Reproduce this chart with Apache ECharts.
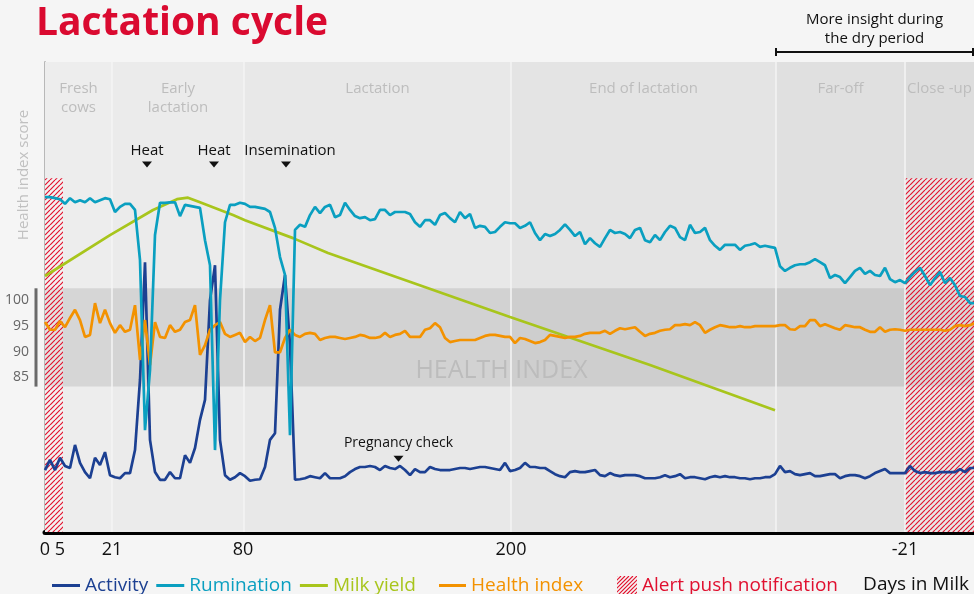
<!DOCTYPE html>
<html><head><meta charset="utf-8">
<script src="https://cdn.jsdelivr.net/npm/echarts@6.0.0/dist/echarts.min.js"></script>
<style>html,body{margin:0;padding:0;background:#f5f5f5;}#c{width:974px;height:594px;}</style>
</head><body><div id="c"></div>
<script>
// ---- DATA (x = position along the schematic lactation timeline, one unit per sample) ----
const activity = [66.3,68.3,66.3,68.7,67.1,66.7,71.2,67.7,65.9,64.7,
68.7,67.3,69.8,65.3,64.9,64.7,65.7,65.7,70.2,83.9,
106.9,72.2,65.9,64.4,64.4,65.9,64.7,64.7,69.2,67.7,
70.6,76.1,80.0,99.5,106.3,72.2,65.3,64.4,64.9,65.7,
65.1,64.2,64.4,64.5,66.9,72.2,73.5,97.6,104.4,90.7,
64.4,64.5,64.7,65.1,64.9,64.7,65.7,64.7,64.7,64.7,
65.1,65.9,66.5,66.9,66.9,67.1,66.9,66.3,67.1,66.7,
66.5,67.1,66.3,65.3,66.5,65.9,65.9,66.9,66.5,66.3,
66.3,66.3,66.5,66.7,66.7,66.5,66.7,66.9,66.9,66.7,
66.5,66.3,67.7,66.1,66.3,66.7,67.7,66.9,66.9,66.7,
66.7,66.1,65.5,65.1,64.9,65.9,66.1,65.9,65.9,66.1,
66.3,65.3,65.1,65.7,65.3,65.1,65.3,65.3,65.3,65.1,
64.7,64.7,64.7,64.9,65.3,64.9,65.1,65.5,64.7,64.9,
64.9,64.7,64.5,64.9,65.1,64.9,65.1,64.9,64.9,64.7,
64.7,64.5,64.7,64.7,64.9,64.9,65.5,67.1,65.9,66.1,
65.5,65.3,65.5,65.7,65.1,65.1,65.3,65.5,65.5,64.7,
65.1,65.3,65.3,65.1,64.7,65.1,65.7,66.1,66.5,65.7,
65.7,65.7,65.7,67.1,66.1,65.7,65.9,65.7,65.7,65.9,
65.9,65.9,65.9,66.5,65.9,66.7,66.7];

const rumination = [119.6,119.6,119.4,119.2,118.3,119.4,118.6,119.0,118.6,119.4,
118.6,119.0,119.4,119.2,116.7,117.7,118.3,118.3,117.1,107.3,
74.1,85.8,112.2,118.5,118.5,118.6,118.6,115.9,118.1,117.9,
117.7,117.5,111.2,106.3,70.2,99.5,114.7,118.1,118.1,118.5,
118.3,117.7,117.7,117.5,117.3,116.7,113.6,107.9,104.4,73.1,
113.2,114.2,113.8,116.1,117.7,116.5,117.7,118.1,115.7,116.1,
118.5,117.1,115.9,115.5,115.7,115.1,115.3,117.1,117.1,116.1,
116.7,116.7,116.7,116.3,114.7,113.8,115.1,115.1,114.2,116.1,
116.5,115.5,114.7,116.7,115.5,116.3,113.6,114.0,113.8,112.6,
112.8,113.8,114.7,114.5,114.5,113.6,114.0,114.7,112.6,111.2,
112.4,112.0,112.4,113.2,114.3,113.2,112.0,112.8,110.4,111.6,
110.6,109.9,111.6,113.2,112.6,112.8,112.4,111.6,113.2,113.6,
111.2,110.8,112.2,111.2,112.8,114.0,113.6,111.8,111.2,114.2,
112.6,112.8,113.6,111.2,110.1,109.3,110.3,110.3,110.3,109.3,
110.1,110.3,110.6,109.9,110.1,109.9,109.7,106.1,105.2,105.8,
106.3,106.5,106.5,106.9,107.5,106.9,106.3,103.8,104.4,104.0,
102.8,104.0,105.2,105.8,104.6,105.2,104.4,104.2,105.8,103.6,
103.0,103.4,102.8,104.0,105.0,105.8,104.2,102.4,103.8,105.0,
102.8,103.8,102.4,100.3,100.1,98.9,98.9];

const healthIndex = [95.2,93.7,93.7,95.4,94.2,96.0,97.6,95.6,92.3,92.7,
98.9,95.0,97.6,95.0,93.1,94.6,93.3,93.7,98.5,87.8,
95.6,86.8,95.2,92.3,92.1,94.6,93.3,93.7,95.2,95.6,
98.5,88.8,90.7,93.7,94.6,95.2,92.9,92.3,92.7,93.1,
91.3,92.3,91.5,92.1,95.6,98.5,89.3,89.3,92.1,93.7,
92.7,92.3,92.9,93.1,92.9,91.7,92.1,92.3,92.3,92.1,
91.9,92.1,92.3,92.7,92.5,92.1,92.1,92.3,93.1,92.3,
92.7,92.9,93.5,92.3,92.3,92.3,93.7,94.0,95.0,94.2,
92.1,91.3,91.5,91.7,91.7,91.7,91.7,92.1,92.5,92.7,
92.7,92.5,92.3,92.3,91.1,92.1,91.9,91.5,91.1,91.3,
91.7,92.7,92.5,92.3,92.1,92.3,92.3,92.5,92.9,93.1,
93.1,93.1,93.5,92.9,93.5,94.0,93.8,94.0,94.2,93.3,
92.5,92.9,93.1,93.5,93.7,93.8,94.6,94.6,94.8,94.6,
95.2,94.6,93.1,93.7,94.2,94.6,94.4,94.2,94.2,94.4,
94.2,94.2,94.4,94.4,94.4,94.4,94.4,94.6,94.6,93.8,
93.7,94.4,94.4,95.6,95.6,94.4,94.8,94.4,94.0,93.7,
94.6,94.4,94.2,94.2,93.7,93.3,93.3,94.2,93.3,93.7,
93.8,93.7,93.5,93.7,93.7,93.7,93.7,93.7,93.7,93.7,
93.5,93.7,94.4,94.6,94.4,94.6,95.0];

const milkAt    = [0, 13, 21.6, 26.4, 28.6, 31, 37.6, 40, 49.6, 56.6, 93, 121, 146];
const milkYield = [104.2, 112.2, 117.1, 119.2, 119.5, 118.6, 116.1, 115.1, 111.6, 108.7, 96.2, 86.8, 78.0];

const phaseNames = ['Fresh\ncows', 'Early\nlactation', 'Lactation', 'End of lactation', 'Far-off', 'Close -up'];
const phaseEdges = [0, 13.4, 39.8, 93.2, 146.2, 172, 185.8];
const tickAt = [0, 3, 13.4, 39.6, 93.2, 172];
const tickLabels = ['0', '5', '21', '80', '200', '-21'];
const healthTicks = [85, 90, 95, 100];
const healthBand = [82.6, 101.8];
const alertRanges = [[0, 3.6], [172, 185.8]];
const alertTop = 123.3;
const eventNames = ['Heat', 'Heat', 'Insemination', 'Pregnancy check'];
const eventAt = [20.4, 33.8, 48.2, 70.7];
const eventLevel = [126, 126, 126, 68.5];
const dryPeriod = [146.2, 185.8];

// ---- STYLE ----
const FONT = '"Open Sans", "Noto Sans", sans-serif';
const phaseColors = ['#ededed', '#ebebeb', '#e8e8e8', '#e4e4e4', '#e0e0e0', '#dddddd'];
const C = { activity: '#1c4092', rumination: '#0a9fc0', milk: '#a8c51c', health: '#f39200', alert: '#e0102f' };
const Y_MIN = 54.2, Y_MAX = 146, X_MAX = 185.8;

function hatchCanvas(w, h, step, bg, lw) {
  const c = document.createElement('canvas');
  c.width = w; c.height = h;
  const g = c.getContext('2d');
  if (bg) { g.fillStyle = bg; g.fillRect(0, 0, w, h); }
  g.strokeStyle = '#e3132f'; g.lineWidth = lw;
  g.beginPath();
  for (let k = -h; k <= w + h; k += step) { g.moveTo(k, h); g.lineTo(k + h, 0); }
  g.stroke();
  return c;
}
const hatchTile = hatchCanvas(5, 5, 5, 'rgba(255,255,255,0.3)', 1.2);
const hatchIcon = hatchCanvas(20, 20, 4, null, 1.2).toDataURL();

const xy = arr => arr.map((v, i) => [i, v]);
const lineSeries = (name, data, color, z) => ({
  name, type: 'line', data, z, showSymbol: false, symbol: 'none', silent: true,
  color, lineStyle: { color, width: 2.7 }, itemStyle: { color }, emphasis: { disabled: true }
});

const chart = echarts.init(document.getElementById('c'));
const option = {
  animation: false,
  backgroundColor: '#f5f5f5',
  textStyle: { fontFamily: FONT },
  title: [
    { text: 'Lactation cycle', left: 31, top: -1, textStyle: { color: '#da0a30', fontSize: 39, fontWeight: 'bold', fontFamily: FONT } },
    { text: 'Days in Milk', right: 0, top: 570, textStyle: { color: '#111', fontSize: 19, fontWeight: 'normal', fontFamily: FONT } }
  ],
  legend: [
    { left: 47, top: 571, itemWidth: 28, itemHeight: 3, itemGap: 8, icon: 'rect', selectedMode: false,
      textStyle: { fontSize: 19, fontFamily: FONT },
      data: [{ name: 'Activity', textStyle: { color: C.activity } },
             { name: 'Rumination', textStyle: { color: C.rumination } },
             { name: 'Milk yield', textStyle: { color: C.milk } }] },
    { left: 434, top: 571, itemWidth: 27, itemHeight: 3, icon: 'rect', selectedMode: false,
      textStyle: { fontSize: 19, fontFamily: FONT },
      data: [{ name: 'Health index', textStyle: { color: C.health } }] },
    { left: 612, top: 571, itemWidth: 20, itemHeight: 20, selectedMode: false,
      textStyle: { fontSize: 19, fontFamily: FONT },
      data: [{ name: 'Alert push notification', icon: 'image://' + hatchIcon, textStyle: { color: C.alert } }] }
  ],
  grid: { left: 45, right: 0, top: 62, bottom: 62 },
  xAxis: {
    type: 'value', min: 0, max: X_MAX,
    axisLine: { show: true, onZero: false, lineStyle: { color: '#000', width: 5 } },
    axisTick: { show: false }, splitLine: { show: false },
    axisLabel: {
      customValues: tickAt, color: '#111', fontSize: 18, margin: 9, fontFamily: FONT,
      formatter: v => { const k = tickAt.findIndex(t => Math.abs(t - v) < 1e-6); return k >= 0 ? tickLabels[k] : ''; }
    }
  },
  yAxis: {
    type: 'value', min: Y_MIN, max: Y_MAX, offset: 9,
    axisLine: { show: true, lineStyle: { color: '#b8b8b8', width: 2 } },
    axisTick: { show: false }, splitLine: { show: false },
    axisLabel: { customValues: healthTicks, margin: 7,
      formatter: v => '{t|' + v + '}',
      rich: { t: { color: '#666', fontSize: 14, fontFamily: FONT, padding: [6, 0, 0, 0] } } }
  },
  series: [
    { name: 'phases', type: 'line', data: [], z: 1, silent: true,
      markArea: { silent: true,
        label: { show: true, position: 'insideTop', distance: 17, color: '#bdbdbd', fontSize: 15, lineHeight: 19, fontFamily: FONT },
        data: phaseNames.map((n, k) => [{ name: n, xAxis: phaseEdges[k], itemStyle: { color: phaseColors[k] } }, { xAxis: phaseEdges[k + 1] }]) } },
    { name: 'healthBand', type: 'line', data: [], z: 2, silent: true,
      markArea: { silent: true,
        label: { show: true, position: 'insideBottom', distance: 3, offset: [-8, 0], color: '#bcbcbc', fontSize: 25, fontFamily: FONT },
        itemStyle: { color: 'rgba(0,0,0,0.095)' },
        data: [[{ name: 'HEALTH INDEX', yAxis: healthBand[0] }, { yAxis: healthBand[1] }]] } },
    { name: 'separators', type: 'line', data: [], z: 3, silent: true,
      markLine: { silent: true, symbol: ['none', 'none'], label: { show: false },
        lineStyle: { color: '#f4f4f4', width: 1.5, type: 'solid' },
        data: phaseEdges.slice(1, -1).map(e => ({ xAxis: e })) } },
    { name: 'Alert push notification', type: 'line', data: [], z: 4, silent: true, color: C.alert,
      markArea: { silent: true, itemStyle: { color: { image: hatchTile, repeat: 'repeat' } },
        data: alertRanges.map(r => [{ xAxis: r[0], yAxis: alertTop }, { xAxis: r[1], yAxis: Y_MIN }]) } },
    lineSeries('Milk yield', milkAt.map((x, k) => [x, milkYield[k]]), C.milk, 5),
    lineSeries('Activity', xy(activity), C.activity, 6),
    lineSeries('Health index', xy(healthIndex), C.health, 7),
    lineSeries('Rumination', xy(rumination), C.rumination, 8),
    { name: 'events', type: 'line', data: [], z: 9, silent: true,
      markPoint: { silent: true,
        data: eventNames.map((n, k) => ({
          name: n, coord: [eventAt[k], eventLevel[k]],
          symbol: 'path://M0,0 L10,0 L5,6 Z', symbolSize: [10, 6], itemStyle: { color: '#111' },
          label: { show: true, position: 'top', formatter: n, color: '#111',
            fontSize: k === 3 ? 14 : 15, distance: k === 3 ? 6 : 3, offset: k === 2 ? [4, 0] : [0, 0], fontFamily: FONT }
        })) } }
  ]
};
chart.setOption(option);

// decorations tied to axis values
const px = v => chart.convertToPixel({ xAxisIndex: 0 }, v);
const py = v => chart.convertToPixel({ yAxisIndex: 0 }, v);
const axisX = chart.convertToPixel({ xAxisIndex: 0 }, 0) - 9;
const bx0 = px(dryPeriod[0]), bx1 = Math.min(px(dryPeriod[1]), 973);
const by = py(Y_MAX) - 10;
chart.setOption({
  graphic: [
    { type: 'line', silent: true, z: 10, shape: { x1: axisX, y1: py(healthBand[1]), x2: axisX, y2: py(healthBand[0]) }, style: { stroke: '#6a6a6a', lineWidth: 3 } },
    { type: 'text', silent: true, x: 24, y: 175, rotation: Math.PI / 2,
      style: { text: 'Health index score', align: 'center', verticalAlign: 'middle', fill: '#c0c0c0', fontSize: 15, fontFamily: FONT } },
    { type: 'line', silent: true, shape: { x1: bx0, y1: by, x2: bx1, y2: by }, style: { stroke: '#111', lineWidth: 2 } },
    { type: 'line', silent: true, shape: { x1: bx0, y1: by - 4, x2: bx0, y2: by + 4 }, style: { stroke: '#111', lineWidth: 2 } },
    { type: 'line', silent: true, shape: { x1: bx1, y1: by - 4, x2: bx1, y2: by + 4 }, style: { stroke: '#111', lineWidth: 2 } },
    { type: 'text', silent: true, x: (bx0 + bx1) / 2, y: 10,
      style: { text: 'More insight during\nthe dry period', align: 'center', verticalAlign: 'top', lineHeight: 19, fill: '#111', fontSize: 15, fontFamily: FONT } }
  ]
});
</script>
</body></html>
